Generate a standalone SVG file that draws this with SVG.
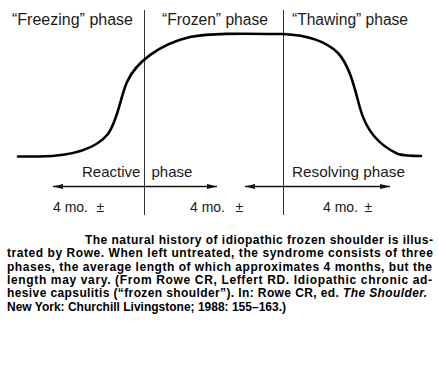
<svg xmlns="http://www.w3.org/2000/svg" width="438" height="373" viewBox="0 0 438 373">
<style>
.lbl{font-family:"Liberation Sans",Arial,sans-serif;fill:#1a1a1a}
.top{font-size:16px}
.mid{font-size:15px}
.mo{font-size:14px}
.cap{font-family:"Liberation Sans",Arial,sans-serif;font-weight:bold;font-size:12px;fill:#000}
.vline{stroke:#333;stroke-width:1}
.arrow{stroke:#111;stroke-width:1.3;fill:none;marker-start:url(#ah);marker-end:url(#ah)}
.curve{stroke:#000;stroke-width:2.6;fill:none;stroke-linecap:round}
</style>
<defs>
<marker id="ah" viewBox="0 0 10 6" refX="10" refY="3" markerWidth="10" markerHeight="6" markerUnits="userSpaceOnUse" orient="auto-start-reverse">
<path d="M0,0.6 L10,3 L0,5.4 z" fill="#111"/>
</marker>
</defs>
<rect width="438" height="373" fill="#fff"/>
<g id="dividers">
<line class="vline" x1="144.5" y1="10" x2="144.5" y2="215"/>
<line class="vline" x1="283.5" y1="10" x2="283.5" y2="215"/>
</g>
<g id="curve">
<path class="curve" d="M18,156.5 L40,156.5 C70,156 95,150 108,134 C118,120 120,98 127,82 C136,62 160,44 190,37 C210,33 240,33.5 283,34 C305,35 325,40 338,53 C350,66 355,90 360,108 C366,130 378,145 398,154 C405,156 412,156 421,156"/>
</g>
<g id="phase-labels">
<text id="freezing" class="lbl top" x="12" y="25" textLength="121" lengthAdjust="spacingAndGlyphs">“Freezing” phase</text>
<text id="frozen" class="lbl top" x="162" y="25" textLength="106" lengthAdjust="spacingAndGlyphs">“Frozen” phase</text>
<text id="thawing" class="lbl top" x="292" y="25" textLength="116" lengthAdjust="spacingAndGlyphs">“Thawing” phase</text>
<text id="reactive" class="lbl mid" x="82" y="177">Reactive<tspan x="151.5">phase</tspan></text>
<text id="resolving" class="lbl mid" x="292" y="177" textLength="113" lengthAdjust="spacingAndGlyphs">Resolving phase</text>
</g>
<g id="connectors">
<path class="arrow" d="M53,186.5 H217"/>
<path class="arrow" d="M245,186.5 H390"/>
</g>
<g id="durations">
<text class="lbl mo" x="53" y="212">4 mo.<tspan x="96.5">±</tspan></text>
<text class="lbl mo" x="190" y="212">4 mo.<tspan x="235.5">±</tspan></text>
<text class="lbl mo" x="323" y="212">4 mo.<tspan x="364.5">±</tspan></text>
</g>
<g id="caption">
<text class="cap" x="85" y="244" textLength="348" lengthAdjust="spacing">The natural history of idiopathic frozen shoulder is illus-</text>
<text class="cap" x="7" y="257.3" textLength="426" lengthAdjust="spacing">trated by Rowe. When left untreated, the syndrome consists of three</text>
<text class="cap" x="7" y="270.6" textLength="425" lengthAdjust="spacing">phases, the average length of which approximates 4 months, but the</text>
<text class="cap" x="7" y="284" textLength="425" lengthAdjust="spacing">length may vary. (From Rowe CR, Leffert RD. Idiopathic chronic ad-</text>
<text class="cap" x="7" y="297.3" textLength="420" lengthAdjust="spacing">hesive capsulitis (“frozen shoulder”). In: Rowe CR, ed. <tspan font-style="italic">The Shoulder.</tspan></text>
<text class="cap" x="7" y="310.6">New York: Churchill Livingstone; 1988: 155–163.)</text>
</g>
</svg>
